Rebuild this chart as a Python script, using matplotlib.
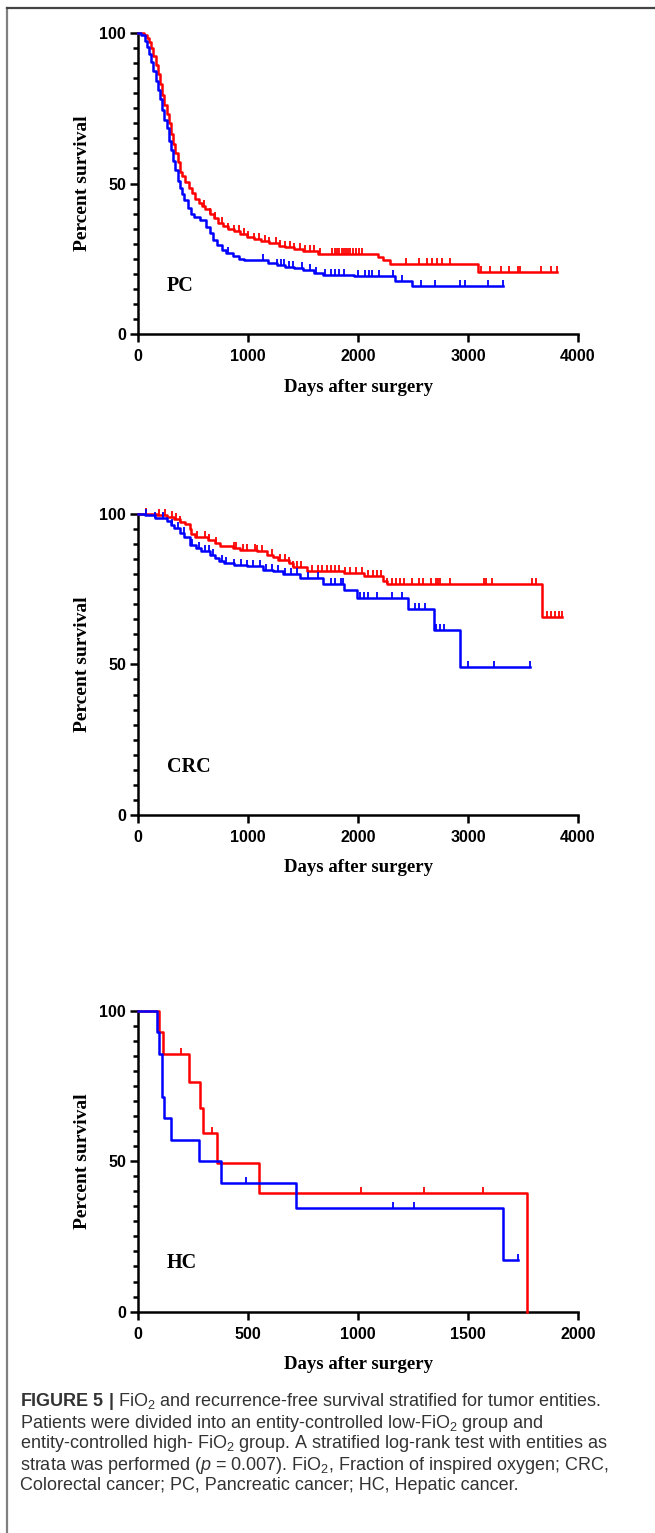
import numpy as np
import matplotlib
matplotlib.use('Agg')
import matplotlib.pyplot as plt
from matplotlib.ticker import MultipleLocator
from matplotlib.lines import Line2D
from matplotlib.font_manager import FontProperties

plt.rcParams['mathtext.fontset'] = 'custom'
plt.rcParams['mathtext.rm'] = 'Liberation Sans'
plt.rcParams['mathtext.it'] = 'Liberation Sans:italic'
plt.rcParams['mathtext.bf'] = 'Liberation Sans:bold'

# ---- PC (pancreatic cancer) ----
pc_high_t = [0, 50, 80, 100, 120, 140, 160, 180, 200, 220, 240, 260, 280, 300, 320, 340, 360,
             380, 400, 430, 460, 490, 520, 550, 580, 610, 650, 690, 730, 770, 820, 870, 930,
             990, 1050, 1120, 1190, 1280, 1340, 1420, 1500, 1640, 2180, 2230, 2290, 3090, 3810]
pc_high_s = [100, 99.5, 98.5, 97, 95, 92.5, 89.5, 86.5, 83, 79.5, 76, 73, 70, 66.5, 63, 60, 57,
             54, 52.5, 50.5, 48.5, 47, 45, 43.5, 42.5, 41.5, 40, 38.5, 37, 36, 35, 34.2, 33.2,
             32.4, 31.6, 30.8, 30.2, 29.4, 28.8, 28.2, 27.6, 26.6, 25.6, 24.5, 23.3, 20.7, 20.7]
pc_high_cens = [600, 650, 700, 760, 820, 870, 920, 960, 1000, 1050, 1100, 1150, 1190, 1250, 1290,
                1340, 1380, 1420, 1470, 1520, 1560, 1600, 1650, 1760, 1790, 1810, 1830, 1850,
                1870, 1890, 1910, 1930, 1950, 1980, 2010, 2040, 2440, 2550, 2630, 2670, 2720,
                2760, 2840, 3120, 3200, 3300, 3370, 3450, 3470, 3660, 3750, 3810]

pc_low_t = [0, 30, 60, 80, 100, 120, 140, 160, 180, 200, 220, 240, 260, 280, 300, 320, 340, 360,
            380, 400, 420, 450, 480, 510, 560, 620, 650, 680, 720, 760, 800, 860, 920, 960, 1180,
            1260, 1340, 1420, 1500, 1600, 1680, 1960, 2340, 2490, 3314]
pc_low_s = [100, 99.5, 97.5, 95.5, 93, 90.5, 87.5, 84, 81, 78, 74.5, 71, 68.5, 64, 61, 57.5, 54.5,
            51, 48.5, 46.5, 44.5, 42, 40, 38.8, 37.8, 35.7, 33.5, 31.3, 29.5, 28, 26.9, 25.8, 25,
            24.5, 23.6, 23, 22.3, 21.8, 21.2, 20.4, 19.7, 19.3, 17.7, 16.1, 16.1]
pc_low_cens = [820, 1140, 1260, 1300, 1330, 1370, 1410, 1490, 1560, 1620, 1700, 1750, 1790, 1830,
               1870, 2000, 2060, 2100, 2130, 2190, 2320, 2400, 2570, 2700, 2930, 2970, 3180, 3314]

# ---- CRC (colorectal cancer) ----
crc_high_t = [0, 170, 260, 330, 380, 430, 470, 485, 520, 640, 700, 745, 860, 930, 1080, 1170,
              1230, 1270, 1370, 1410, 1540, 1870, 2050, 2230, 2260, 3676, 3850]
crc_high_s = [100, 99.6, 99.1, 98.3, 97.3, 96.5, 95, 93.4, 92.2, 91.2, 90.3, 89.2, 88.7, 88.1,
              87.6, 86.5, 85.6, 84.8, 83.7, 82.4, 81.2, 80.4, 79.4, 77.6, 76.6, 65.7, 65.7]
crc_high_cens = [76, 190, 248, 305, 343, 381, 533, 610, 648, 705, 876, 895, 952, 990, 1067, 1086,
                 1124, 1219, 1295, 1333, 1371, 1410, 1448, 1486, 1581, 1638, 1676, 1714, 1752,
                 1790, 1829, 1886, 1924, 1981, 2038, 2095, 2133, 2171, 2210, 2267, 2305, 2343,
                 2381, 2419, 2495, 2552, 2590, 2667, 2705, 2724, 2743, 2838, 3143, 3162, 3219,
                 3581, 3619, 3714, 3752, 3790, 3829, 3850]

crc_low_t = [0, 60, 150, 260, 300, 330, 380, 420, 470, 530, 570, 650, 700, 740, 780, 870, 990,
             1140, 1230, 1320, 1470, 1680, 1870, 1990, 2450, 2690, 2925, 3562]
crc_low_s = [100, 99.6, 98.8, 97.5, 96.4, 95.3, 93.6, 92.2, 89.8, 88.6, 87.6, 86.5, 85.2, 84.3,
             83.6, 83.1, 82.6, 81.5, 81, 79.9, 78.8, 76.6, 74.8, 72.1, 68.5, 61.5, 49.1, 49.1]
crc_low_cens = [76, 152, 229, 305, 362, 419, 495, 552, 610, 648, 686, 762, 800, 876, 933, 990,
                1048, 1105, 1162, 1219, 1276, 1333, 1390, 1448, 1543, 1638, 1752, 1790, 1848,
                1867, 2019, 2057, 2095, 2171, 2305, 2400, 2514, 2552, 2610, 2705, 2743, 2781,
                2998, 3238, 3562]

# ---- HC (hepatic cancer) ----
hc_high_t = [0, 97, 115, 233, 282, 294, 360, 552, 1766]
hc_high_s = [100, 92.9, 85.7, 76.2, 67.7, 59.3, 49.4, 39.5, 0]
hc_high_cens = [196, 335, 1013, 1299, 1568]

hc_low_t = [0, 86, 95, 110, 118, 152, 276, 377, 720, 1657, 1728]
hc_low_s = [100, 92.9, 85.7, 71.4, 64.3, 57.1, 50, 42.9, 34.3, 17.1, 17.1]
hc_low_cens = [491, 1158, 1253, 1728]

panels = [
    ('PC', 4000, 1000, [pc_high_t, pc_high_s, pc_high_cens], [pc_low_t, pc_low_s, pc_low_cens], 0.7821),
    ('CRC', 4000, 1000, [crc_high_t, crc_high_s, crc_high_cens], [crc_low_t, crc_low_s, crc_low_cens], 0.4684),
    ('HC', 2000, 500, [hc_high_t, hc_high_s, hc_high_cens], [hc_low_t, hc_low_s, hc_low_cens], 0.1444),
]

W, H = 655, 1533
fig = plt.figure(figsize=(W / 100, H / 100), dpi=100)

tickfont = FontProperties(family='Liberation Sans', weight='bold', size=11.5)
serif = ['Liberation Serif', 'DejaVu Serif']
tick_up = [(0, 0), (0, 1)]

for name, xmax, xstep, high, low, bottom in panels:
    ax = fig.add_axes([138 / W, bottom, 440 / W, 301 / H])
    for (t, s, cens), color in [(high, '#ff0000'), (low, '#0000ff')]:
        t = np.array(t, dtype=float)
        s = np.array(s, dtype=float)
        ax.step(t, s, where='post', color=color, lw=1.8, clip_on=False, zorder=3)
        c = np.array(cens, dtype=float)
        cy = s[np.searchsorted(t, c, side='right') - 1]
        ax.plot(c, cy, ls='none', marker=tick_up, ms=8, mec=color, mew=1.3,
                clip_on=False, zorder=3)

    ax.set_xlim(0, xmax)
    ax.set_ylim(0, 100)
    ax.set_xticks(np.arange(0, xmax + 1, xstep))
    ax.set_yticks([0, 50, 100])
    ax.yaxis.set_minor_locator(MultipleLocator(5))
    for sp in ['top', 'right']:
        ax.spines[sp].set_visible(False)
    for sp in ['left', 'bottom']:
        ax.spines[sp].set_linewidth(1.8)
    ax.tick_params(which='major', length=6, width=1.8, direction='out')
    ax.tick_params(which='minor', length=3.6, width=1.8, direction='out')
    ax.tick_params(axis='x', pad=5)
    ax.tick_params(axis='y', pad=2.5)
    for lab in ax.get_xticklabels() + ax.get_yticklabels():
        lab.set_fontproperties(tickfont)

    ax.set_xlabel('Days after surgery', family=serif, weight='bold', size=13.5)
    ax.xaxis.set_label_coords(0.5, -0.176)
    ax.xaxis.label.set_va('center')
    ax.set_ylabel('Percent survival', family=serif, weight='bold', size=14)
    ax.yaxis.set_label_coords(-0.127, 0.5)
    ax.yaxis.label.set_va('center')

    ax.text(0.066, 0.16, name, transform=ax.transAxes, family=serif, weight='bold',
            size=14.5, ha='left', va='center')

# page frame (left and top rules)
fig.add_artist(Line2D([7 / W, 7 / W], [0, 1 - 8 / H], color='#808080', lw=1.6))
fig.add_artist(Line2D([7 / W, 1], [1 - 8 / H, 1 - 8 / H], color='#444444', lw=1.6))

caption = [
    r'$\mathbf{FIGURE\ 5\ |}$ FiO$_2$ and recurrence-free survival stratified for tumor entities.',
    r'Patients were divided into an entity-controlled low-FiO$_2$ group and',
    r'entity-controlled high- FiO$_2$ group. A stratified log-rank test with entities as',
    r'strata was performed ($p$ = 0.007). FiO$_2$, Fraction of inspired oxygen; CRC,',
    r'Colorectal cancer; PC, Pancreatic cancer; HC, Hepatic cancer.',
]
for i, line in enumerate(caption):
    y = 1402 + i * 21
    fig.text(20 / W, 1 - y / H, line, family='Liberation Sans', size=13,
             color='#333333', ha='left', va='center')

fig.savefig('out.png', dpi=100)
